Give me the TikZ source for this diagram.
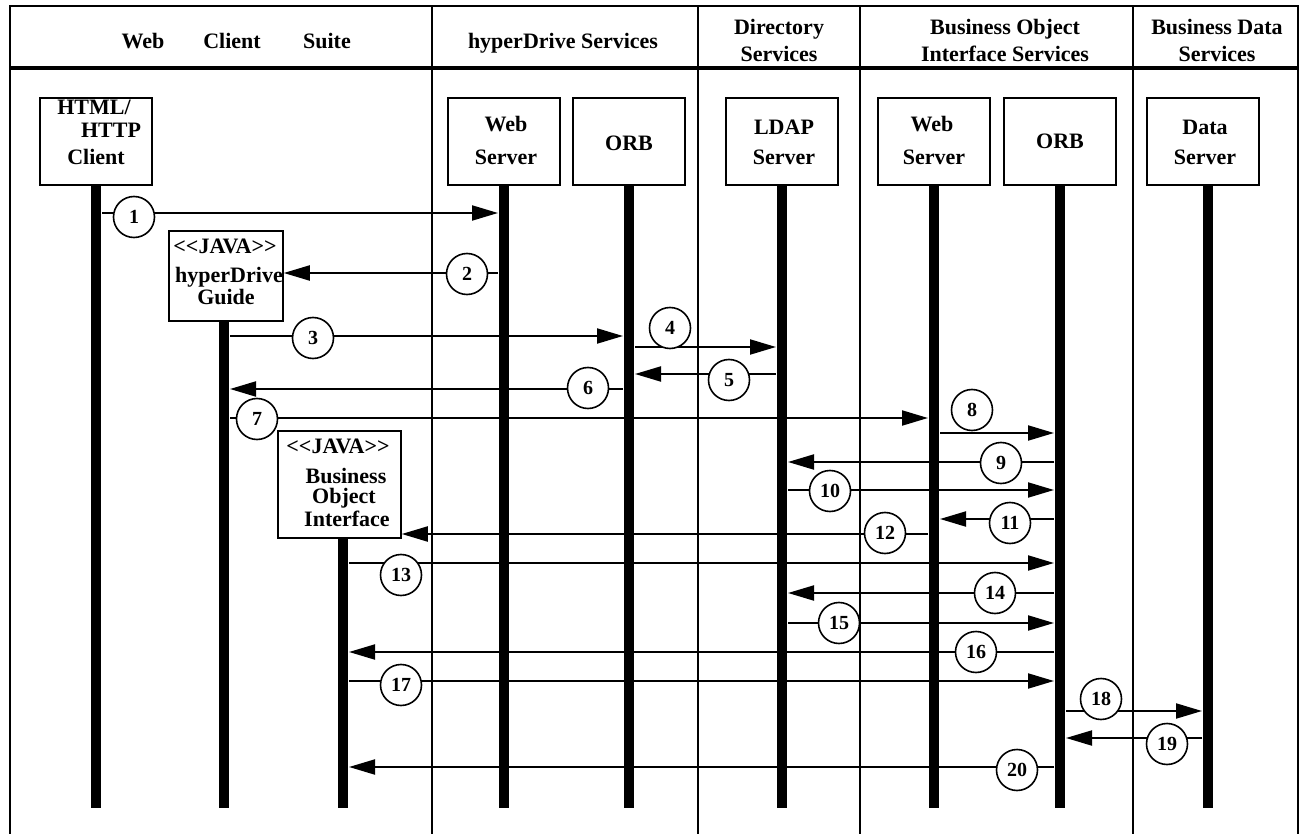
\documentclass[tikz,border=0pt]{standalone}
\usepackage{fontspec}
\setmainfont{Liberation Serif}
\usetikzlibrary{arrows.meta,calc}
\newcommand\msgR[3]{\draw[msg] ($(#2 |- 0,#1)+(6,0)$) -- ($(#3 |- 0,#1)+(-6,0)$);}
\newcommand\msgL[3]{\draw[msg] ($(#2 |- 0,#1)+(-6,0)$) -- ($(#3 |- 0,#1)+(6,0)$);}
\newcommand\javatag{<{}<JAVA>{}>}
\begin{document}
\begin{tikzpicture}[x=1pt,y=-1pt,
  box/.style={draw,line width=1.5pt,fill=white,minimum width=112pt,minimum height=87pt,inner sep=0pt},
  txt/.style={font=\bfseries\fontsize{22}{26}\selectfont,inner sep=0pt,anchor=base},
  life/.style={line width=10pt},
  msg/.style={line width=2pt,-{Triangle[length=26pt,width=15pt]}},
  num/.style={circle,draw,line width=1.6pt,fill=white,minimum size=41pt,inner sep=0pt,font=\bfseries\fontsize{20}{20}\selectfont},
  lane/.style={line width=1.5pt}]
\useasboundingbox (0,0) rectangle (1307,834);
% frame and lanes
\coordinate (tl) at (10,6); \coordinate (tr) at (1298,6);
\coordinate (bl) at (10,834); \coordinate (br) at (1298,834);
\draw[lane] (bl) -- (tl) -- (tr) -- (br);
\foreach \xx/\nm in {432/d1,698/d2,860/d3,1133/d4}{
  \coordinate (\nm t) at (\xx,6); \coordinate (\nm b) at (\xx,834);
  \draw[lane] (\nm t) -- (\nm b);}
\coordinate (hl) at (10,68); \coordinate (hr) at (1298,68);
\draw[line width=4pt] (hl) -- (hr);
% header texts
\node[txt] (h1) at (143,49) {Web};
\node[txt] (h2) at (232,49) {Client};
\node[txt] (h3) at (327,49) {Suite};
\node[txt] (h4) at (563,49) {hyperDrive Services};
\node[txt] (h5) at (779,35) {Directory};
\node[txt] (h6) at (779,62) {Services};
\node[txt] (h7) at (1005,35) {Business Object};
\node[txt] (h8) at (1005,62) {Interface Services};
\node[txt] (h9) at (1217,35) {Business Data};
\node[txt] (h10) at (1217,62) {Services};
% lifelines
\foreach \xx/\nm in {96/hc,504/wsa,629/orba,782/ldap,934/wsb,1060/orbb,1208/ds}{
  \coordinate (\nm T) at (\xx,185); \coordinate (\nm B) at (\xx,808);
  \draw[life] (\nm T) -- (\nm B);}
\coordinate (gdT) at (224,321); \coordinate (gdB) at (224,808);
\draw[life] (gdT) -- (gdB);
\coordinate (boiT) at (343,538); \coordinate (boiB) at (343,808);
\draw[life] (boiT) -- (boiB);
% top boxes
\node[box] (hcbox) at (96,141.5) {};
\node[txt] (t1) at (94,115) {HTML/};
\node[txt] (t2) at (111,138) {HTTP};
\node[txt] (t3) at (96,165) {Client};
\node[box] (wsabox) at (504,141.5) {};
\node[txt] (t4) at (506,132) {Web};
\node[txt] (t5) at (506,165) {Server};
\node[box] (orbabox) at (629,141.5) {};
\node[txt] (t6) at (629,151) {ORB};
\node[box] (ldapbox) at (782,141.5) {};
\node[txt] (t7) at (784,135) {LDAP};
\node[txt] (t8) at (784,165) {Server};
\node[box] (wsbbox) at (934,141.5) {};
\node[txt] (t9) at (932,132) {Web};
\node[txt] (t10) at (934,165) {Server};
\node[box] (orbbbox) at (1060,141.5) {};
\node[txt] (t11) at (1060,149) {ORB};
\node[box] (dsbox) at (1203,141.5) {};
\node[txt] (t12) at (1205,135) {Data};
\node[txt] (t13) at (1205,165) {Server};
% java boxes
\node[box,minimum width=114pt,minimum height=90pt] (gbox) at (226,276) {};
\node[txt] (t14) at (225,254) {\javatag};
\node[txt] (t15) at (229,283) {hyperDrive};
\node[txt] (t16) at (226,305) {Guide};
\node[box,minimum width=123pt,minimum height=107pt] (bbox) at (339.5,484.5) {};
\node[txt] (t17) at (338,453) {\javatag};
\node[txt] (t18) at (346,483) {Business};
\node[txt] (t19) at (344,503) {Object};
\node[txt] (t20) at (347,526) {Interface};
% messages
\msgR{213}{hcB}{wsaB}
\draw[msg] ($(wsaB |- 0,273)+(-6,0)$) -- (gbox.east |- 0,273);
\msgR{336}{gdB}{orbaB}
\msgR{347}{orbaB}{ldapB}
\msgL{374}{ldapB}{orbaB}
\msgL{389}{orbaB}{gdB}
\msgR{418}{gdB}{wsbB}
\msgR{433}{wsbB}{orbbB}
\msgL{462}{orbbB}{ldapB}
\msgR{490}{ldapB}{orbbB}
\msgL{519}{orbbB}{wsbB}
\draw[msg] ($(wsbB |- 0,534)+(-6,0)$) -- (bbox.east |- 0,534);
\msgR{563}{boiB}{orbbB}
\msgL{593}{orbbB}{ldapB}
\msgR{623}{ldapB}{orbbB}
\msgL{652}{orbbB}{boiB}
\msgR{681}{boiB}{orbbB}
\msgR{711}{orbbB}{dsB}
\msgL{738}{dsB}{orbbB}
\msgL{767}{orbbB}{boiB}
% numbers
\node[num] (n1) at (134,217) {1};
\node[num] (n2) at (467,274) {2};
\node[num] (n3) at (313,338) {3};
\node[num] (n4) at (670,328) {4};
\node[num] (n5) at (729,380) {5};
\node[num] (n6) at (588,388) {6};
\node[num] (n7) at (257,419) {7};
\node[num] (n8) at (972,410) {8};
\node[num] (n9) at (1001,463) {9};
\node[num] (n10) at (830,491) {10};
\node[num] (n11) at (1010,523) {11};
\node[num] (n12) at (885,533) {12};
\node[num] (n13) at (401,575) {13};
\node[num] (n14) at (995,593) {14};
\node[num] (n15) at (839,623) {15};
\node[num] (n16) at (976,652) {16};
\node[num] (n17) at (401,685) {17};
\node[num] (n18) at (1101,699) {18};
\node[num] (n19) at (1167,744) {19};
\node[num] (n20) at (1017,770) {20};
\end{tikzpicture}
\end{document}
